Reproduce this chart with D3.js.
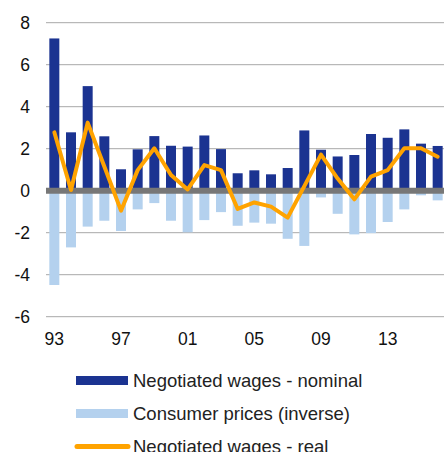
<!DOCTYPE html>
<html><head><meta charset="utf-8">
<script src="https://cdn.jsdelivr.net/npm/d3@7"></script>
<style>body{margin:0;background:#fff}svg{display:block}text{font-family:"Liberation Sans",Arial,sans-serif}</style>
</head><body>
<svg id="c" width="444" height="452"></svg>
<script>
const years = ["93","94","95","96","97","98","99","00","01","02","03","04","05","06","07","08","09","10","11","12","13","14","15","16"];
const nominal = [7.25,2.78,4.98,2.59,1.02,1.97,2.60,2.14,2.10,2.63,1.98,0.83,0.97,0.78,1.08,2.87,1.95,1.63,1.70,2.70,2.52,2.92,2.24,2.13];
const cpiInverse = [-4.49,-2.70,-1.71,-1.43,-1.92,-0.89,-0.59,-1.43,-1.98,-1.40,-1.02,-1.67,-1.52,-1.57,-2.29,-2.63,-0.32,-1.10,-2.08,-2.02,-1.49,-0.89,-0.22,-0.46];
const real = [2.78,0.03,3.24,1.15,-0.95,0.98,2.02,0.75,0.06,1.22,0.98,-0.87,-0.56,-0.76,-1.28,0.22,1.72,0.58,-0.41,0.67,0.98,2.02,2.02,1.62];
const yTicks = [-6,-4,-2,0,2,4,6,8];
const xTickLabels = ["93","97","01","05","09","13"];
const seriesNames = ["Negotiated wages - nominal","Consumer prices (inverse)","Negotiated wages - real"];
const colors = ["#1B3391","#B4D1EE","#FFA300"];

const svg = d3.select("#c");
const x = d3.scaleBand().domain(years).range([46,446]).paddingInner(0.4).paddingOuter(0.2);
const y = d3.scaleLinear().domain([-6,8]).range([316.7,22.7]);

// gridlines
svg.append("g").selectAll("line").data(yTicks.filter(d=>d!==0)).join("line")
  .attr("x1",46).attr("x2",444).attr("y1",d=>y(d)).attr("y2",d=>y(d))
  .attr("stroke","#a8a8a8").attr("stroke-width",1);

// y axis labels
const yAxis = d3.axisLeft(y).tickValues(yTicks).tickSize(0).tickPadding(0).tickFormat(d=>String(d));
const ya = svg.append("g").attr("transform","translate(30,0)").call(yAxis);
ya.select(".domain").remove();
ya.selectAll("text").attr("font-size",17.5).attr("fill","#111").attr("dy","0.35em").attr("font-family","Liberation Sans, Arial, sans-serif");

// bars
svg.append("g").selectAll("rect").data(years).join("rect")
  .attr("x",d=>x(d)).attr("width",x.bandwidth())
  .attr("y",(d,i)=>y(nominal[i])).attr("height",(d,i)=>y(0)-y(nominal[i]))
  .attr("fill",colors[0]);
svg.append("g").selectAll("rect").data(years).join("rect")
  .attr("x",d=>x(d)).attr("width",x.bandwidth())
  .attr("y",y(0)).attr("height",(d,i)=>y(cpiInverse[i])-y(0))
  .attr("fill",colors[1]);

// zero line
svg.append("line").attr("x1",46).attr("x2",444).attr("y1",y(0)).attr("y2",y(0))
  .attr("stroke","#777").attr("stroke-width",6);

// real line
const line = d3.line().x((d,i)=>x(years[i])+x.bandwidth()/2).y(d=>y(d));
svg.append("path").datum(real).attr("d",line).attr("fill","none")
  .attr("stroke",colors[2]).attr("stroke-width",4).attr("stroke-linejoin","round").attr("stroke-linecap","round");

// x axis labels
const xAxis = d3.axisBottom(x).tickValues(xTickLabels).tickSize(0).tickPadding(0);
const xa = svg.append("g").attr("transform","translate(0,339)").call(xAxis);
xa.select(".domain").remove();
xa.selectAll("text").attr("font-size",17.5).attr("fill","#111").attr("dy","0.35em").attr("font-family","Liberation Sans, Arial, sans-serif");

// legend
const lg = svg.append("g");
const rowsY = [380.5,413.5,446.5];
seriesNames.forEach((name,i)=>{
  if(i<2){
    lg.append("rect").attr("x",76).attr("y",rowsY[i]-4.5).attr("width",52).attr("height",9).attr("fill",colors[i]);
  } else {
    lg.append("line").attr("x1",77).attr("x2",128).attr("y1",rowsY[i]).attr("y2",rowsY[i])
      .attr("stroke",colors[i]).attr("stroke-width",5).attr("stroke-linecap","round");
  }
  lg.append("text").attr("x",133).attr("y",rowsY[i]).attr("dy","0.35em")
    .attr("font-size",18.5).attr("fill","#222").text(name);
});
</script>
</body></html>
